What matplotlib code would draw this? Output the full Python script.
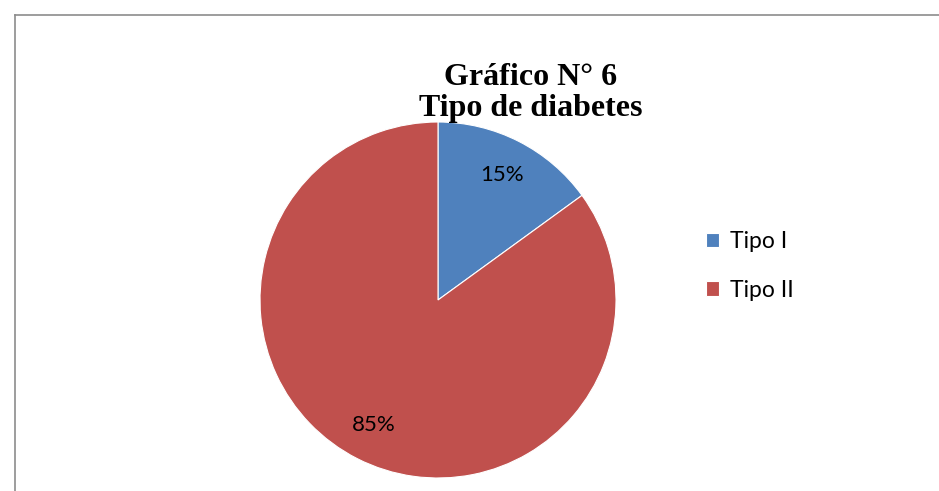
import matplotlib
matplotlib.use('Agg')
import matplotlib.pyplot as plt
from matplotlib.lines import Line2D

# data
labels = ['Tipo I', 'Tipo II']
values = [15, 85]
colors = ['#4F81BD', '#C0504D']
title = 'Gráfico N° 6\nTipo de diabetes'

W, H = 939, 491
fig = plt.figure(figsize=(W/100, H/100), dpi=100)

# chart border (goes off the right and bottom edges)
fig.add_artist(Line2D([14.5/W, 14.5/W], [0, 1-14.5/H], color='#8c8c8c', lw=1.2))
fig.add_artist(Line2D([14.5/W, 1], [1-14.5/H, 1-14.5/H], color='#8c8c8c', lw=1.2))

# pie centre ~ (438, 300) px, radius ~178 px
r = 178
ax = fig.add_axes([(438-r)/W, (H-300-r)/H, 2*r/W, 2*r/H])
wedges, texts, autotexts = ax.pie(values, colors=colors, startangle=90, counterclock=False,
                                  autopct='%1.0f%%', pctdistance=0.79,
                                  wedgeprops={'edgecolor': 'white', 'linewidth': 0.8},
                                  textprops={'fontsize': 16, 'family': 'Lato'})
ax.set_xlim(-1, 1)
ax.set_ylim(-1, 1)
ax.set_aspect('equal')

fig.text(531/W, 1-93/H, title, ha='center', va='center', fontsize=23,
         fontweight='bold', family='Liberation Serif', linespacing=1.05)

fig.legend(wedges, labels, loc='center left', bbox_to_anchor=(685/W, 1-266/H),
           frameon=False, prop={'family': 'Lato', 'size': 16.5},
           handlelength=0.6, handleheight=0.6, handletextpad=0.45, labelspacing=1.2)

fig.savefig('out.png', dpi=100)
